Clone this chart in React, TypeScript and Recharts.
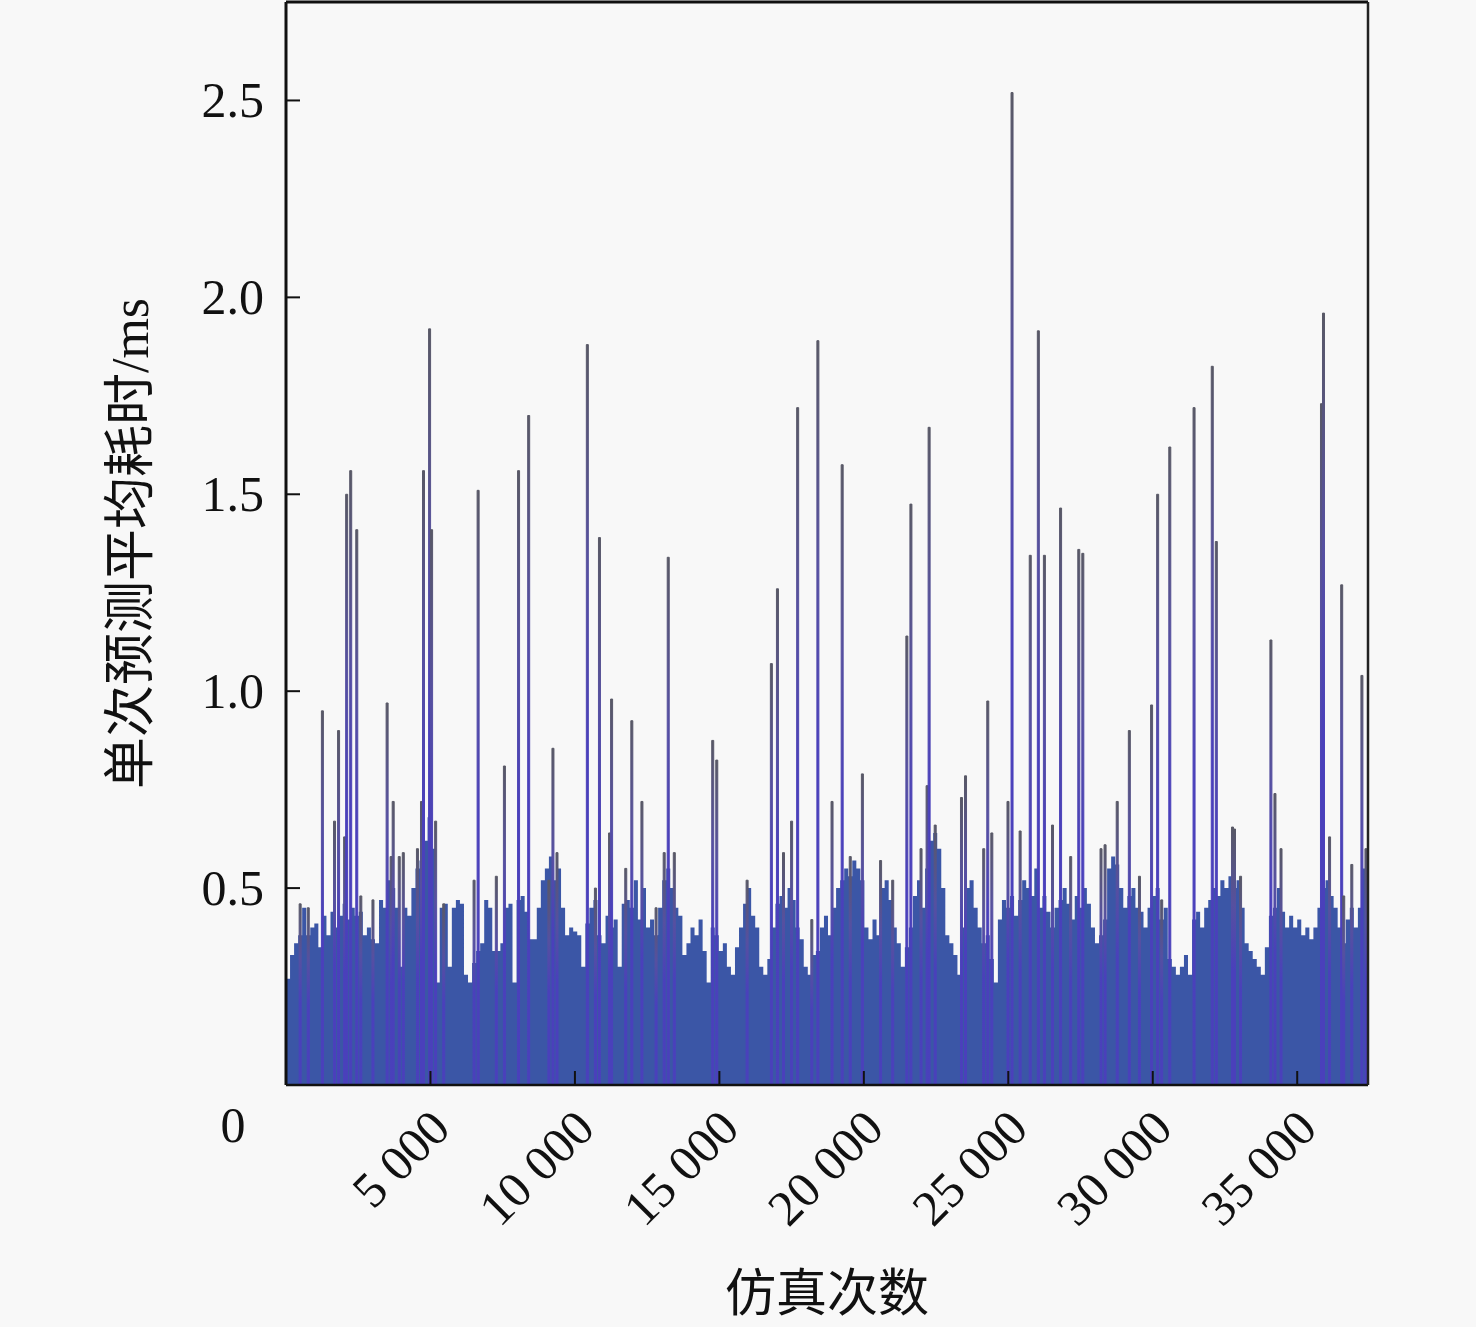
import { ComposedChart, Area, Bar, XAxis, YAxis, Label } from "recharts"

// run spacing of the sampled base level
const BASE_STEP = 140

// base level of the prediction time (ms), one value every BASE_STEP runs
const baseTimes = [
  0.27, 0.33, 0.36, 0.38, 0.45, 0.38, 0.4, 0.41, 0.35, 0.43,
  0.38, 0.44, 0.4, 0.43, 0.46, 0.42, 0.45, 0.43, 0.44, 0.38,
  0.4, 0.37, 0.36, 0.47, 0.45, 0.52, 0.5, 0.45, 0.3, 0.45,
  0.43, 0.5, 0.55, 0.57, 0.62, 0.68, 0.6, 0.26, 0.45, 0.46,
  0.3, 0.45, 0.47, 0.46, 0.28, 0.26, 0.31, 0.34, 0.36, 0.47,
  0.45, 0.34, 0.34, 0.36, 0.45, 0.46, 0.26, 0.47, 0.48, 0.44,
  0.37, 0.37, 0.45, 0.52, 0.55, 0.58, 0.52, 0.55, 0.45, 0.38,
  0.4, 0.39, 0.38, 0.3, 0.41, 0.45, 0.47, 0.38, 0.36, 0.43,
  0.4, 0.42, 0.3, 0.46, 0.47, 0.45, 0.52, 0.42, 0.5, 0.4,
  0.42, 0.38, 0.45, 0.52, 0.55, 0.5, 0.45, 0.43, 0.33, 0.36,
  0.4, 0.38, 0.42, 0.34, 0.26, 0.4, 0.38, 0.34, 0.36, 0.3,
  0.28, 0.35, 0.4, 0.46, 0.5, 0.43, 0.4, 0.3, 0.28, 0.32,
  0.4, 0.46, 0.48, 0.45, 0.5, 0.47, 0.4, 0.37, 0.3, 0.28,
  0.33, 0.34, 0.4, 0.43, 0.38, 0.45, 0.5, 0.52, 0.55, 0.53,
  0.57, 0.55, 0.52, 0.4, 0.37, 0.42, 0.38, 0.5, 0.52, 0.47,
  0.4, 0.36, 0.3, 0.35, 0.4, 0.48, 0.52, 0.45, 0.55, 0.62,
  0.64, 0.6, 0.5, 0.38, 0.36, 0.33, 0.28, 0.4, 0.5, 0.52,
  0.45, 0.4, 0.36, 0.38, 0.32, 0.26, 0.42, 0.47, 0.45, 0.48,
  0.43, 0.47, 0.52, 0.5, 0.48, 0.55, 0.45, 0.48, 0.44, 0.4,
  0.45, 0.47, 0.5, 0.46, 0.42, 0.48, 0.45, 0.5, 0.46, 0.4,
  0.36, 0.38, 0.42, 0.55, 0.58, 0.56, 0.5, 0.45, 0.48, 0.5,
  0.45, 0.44, 0.4, 0.45, 0.48, 0.5, 0.42, 0.45, 0.32, 0.3,
  0.28, 0.3, 0.33, 0.28, 0.42, 0.44, 0.4, 0.45, 0.47, 0.5,
  0.48, 0.52, 0.5, 0.53, 0.5, 0.52, 0.45, 0.36, 0.34, 0.32,
  0.3, 0.28, 0.35, 0.43, 0.45, 0.5, 0.44, 0.4, 0.43, 0.4,
  0.42, 0.38, 0.4, 0.37, 0.4, 0.45, 0.5, 0.52, 0.48, 0.45,
  0.4, 0.36, 0.42, 0.45, 0.4, 0.45, 0.55, 0.58,
]

// single runs that took much longer
const spikeRuns = [
  490, 770, 1260, 1680, 1820, 2030, 2100, 2240, 2450, 2590,
  3010, 3500, 3640, 3710, 3920, 4060, 4550, 4690, 4760, 4970,
  5040, 5180, 5460, 6510, 6650, 7280, 7560, 8050, 8400, 9100,
  9240, 9380, 10430, 10710, 10850, 11200, 11270, 11760, 11970, 12320,
  12810, 13090, 13230, 13440, 14770, 14910, 15960, 16800, 17010, 17220,
  17500, 17710, 18200, 18410, 18900, 19250, 19530, 19950, 20580, 21000,
  21490, 21630, 21980, 22190, 22260, 22470, 23380, 23520, 24150, 24290,
  24430, 24990, 25130, 25410, 25760, 26040, 26250, 26530, 26810, 27160,
  27440, 27580, 28210, 28350, 28770, 29190, 29540, 29960, 30170, 30310,
  30590, 31430, 32060, 32200, 32760, 32830, 33040, 34090, 34230, 34440,
  35840, 35910, 36120, 36540, 36610, 36890, 37240, 37380,
]
const spikeTimes = [
  0.46, 0.45, 0.95, 0.67, 0.9, 0.63, 1.5, 1.56, 1.41, 0.48,
  0.47, 0.97, 0.58, 0.72, 0.58, 0.59, 0.6, 0.72, 1.56, 1.92,
  1.41, 0.67, 0.46, 0.52, 1.51, 0.53, 0.81, 1.56, 1.7, 0.52,
  0.855, 0.59, 1.88, 0.5, 1.39, 0.64, 0.98, 0.55, 0.925, 0.72,
  0.45, 0.59, 1.34, 0.59, 0.875, 0.825, 0.52, 1.07, 1.26, 0.59,
  0.67, 1.72, 0.42, 1.89, 0.72, 1.575, 0.58, 0.79, 0.57, 0.52,
  1.14, 1.475, 0.6, 0.76, 1.67, 0.66, 0.73, 0.785, 0.6, 0.975,
  0.64, 0.72, 2.52, 0.645, 1.345, 1.915, 1.345, 0.66, 1.465, 0.58,
  1.36, 1.35, 0.6, 0.61, 0.72, 0.9, 0.53, 0.965, 1.5, 0.47,
  1.62, 1.72, 1.825, 1.38, 0.655, 0.65, 0.53, 1.13, 0.74, 0.6,
  1.73, 1.96, 0.63, 1.27, 0.48, 0.56, 1.04, 0.6,
]

const xTicks = [5000, 10000, 15000, 20000, 25000, 30000, 35000]
const yTicks = [0, 0.5, 1.0, 1.5, 2.0, 2.5]

const FONT = "'Liberation Serif', 'Times New Roman', 'Noto Sans CJK SC', serif"
const INK = "#111"

type Row = { run: number; base?: number; spike?: number }

function buildRows(): Row[] {
  const byRun = new Map<number, Row>()
  baseTimes.forEach((v, i) => {
    const run = i * BASE_STEP
    byRun.set(run, { run, base: v })
  })
  spikeRuns.forEach((run, i) => {
    const row = byRun.get(run) ?? { run }
    row.spike = spikeTimes[i]
    byRun.set(run, row)
  })
  return [...byRun.values()].sort((a, b) => a.run - b.run)
}

const rows = buildRows()

function fmtRun(v: number) {
  return String(v).replace(/\B(?=(\d{3})+(?!\d))/g, " ")
}

function YTick(props: any) {
  const { x, y, payload } = props
  const v = payload.value
  if (v === 0) {
    return (
      <text x={x - 53} y={y + 40} textAnchor="middle" dominantBaseline="central"
        fontSize={50} fontFamily={FONT} fill={INK}>0</text>
    )
  }
  return (
    <g>
      <line x1={x} x2={x + 14} y1={y} y2={y} stroke={INK} strokeWidth={2} />
      <text x={x - 22} y={y} textAnchor="end" dominantBaseline="central"
        fontSize={50} fontFamily={FONT} fill={INK}>{v.toFixed(1)}</text>
    </g>
  )
}

function XTick(props: any) {
  const { x, y, payload } = props
  const ax = x + 22
  const ay = y + 46
  return (
    <g>
      <line x1={x} x2={x} y1={y} y2={y - 14} stroke={INK} strokeWidth={2} />
      <text x={ax} y={ay} textAnchor="end" transform={`rotate(-45 ${ax} ${ay})`}
        fontSize={50} fontFamily={FONT} fill={INK}>{fmtRun(payload.value)}</text>
    </g>
  )
}

export default function App() {
  return (
    <div style={{ position: "absolute", left: 0, top: 0, width: 1476, height: 1327, background: "#f8f8f8" }}>
      <ComposedChart width={1476} height={1327} data={rows}
        margin={{ top: 1, right: 107, bottom: 241, left: 285 }}>
        <defs>
          <linearGradient id="spikeFill" x1="0" y1="0" x2="0" y2="1">
            <stop offset="0%" stopColor="#585866" />
            <stop offset="30%" stopColor="#5650a0" />
            <stop offset="55%" stopColor="#4a40bb" />
            <stop offset="100%" stopColor="#4a40bb" />
          </linearGradient>
        </defs>
        <XAxis dataKey="run" type="number" domain={[0, 37450]} ticks={xTicks} interval={0}
          height={1} tickSize={0} tickMargin={0} tickLine={false} tick={<XTick />}
          axisLine={{ stroke: INK, strokeWidth: 2.5 }} allowDataOverflow>
          <Label content={({ viewBox }: any) => (
            <text x={viewBox.x + viewBox.width / 2} y={viewBox.y + 209} textAnchor="middle"
              dominantBaseline="central" fontSize={51} fontFamily={FONT} fill={INK}>仿真次数</text>
          )} />
        </XAxis>
        <XAxis xAxisId="top" dataKey="run" orientation="top" type="number" domain={[0, 37450]}
          height={1} tick={false} tickLine={false} axisLine={{ stroke: INK, strokeWidth: 3 }} />
        <YAxis type="number" domain={[0, 2.75]} ticks={yTicks} interval={0} width={1}
          tickSize={0} tickMargin={0} tickLine={false} tick={<YTick />}
          axisLine={{ stroke: INK, strokeWidth: 3 }} allowDataOverflow>
          <Label content={({ viewBox }: any) => {
            const lx = viewBox.x - 155
            const ly = viewBox.y + viewBox.height / 2
            return (
              <text x={lx} y={ly} textAnchor="middle" dominantBaseline="central"
                transform={`rotate(-90 ${lx} ${ly})`} fontSize={52} fontFamily={FONT} fill={INK}>
                单次预测平均耗时/ms
              </text>
            )
          }} />
        </YAxis>
        <YAxis yAxisId="right" orientation="right" type="number" domain={[0, 2.75]} width={1}
          tick={false} tickLine={false} axisLine={{ stroke: "#222", strokeWidth: 2.5 }} />
        <Bar dataKey="spike" barSize={2} fill="url(#spikeFill)" stroke="url(#spikeFill)"
          strokeWidth={1} isAnimationActive={false} />
        <Area dataKey="base" type="stepAfter" connectNulls stroke="none" fill="#3b56a6"
          fillOpacity={1} isAnimationActive={false} dot={false} activeDot={false} />
      </ComposedChart>
    </div>
  )
}
